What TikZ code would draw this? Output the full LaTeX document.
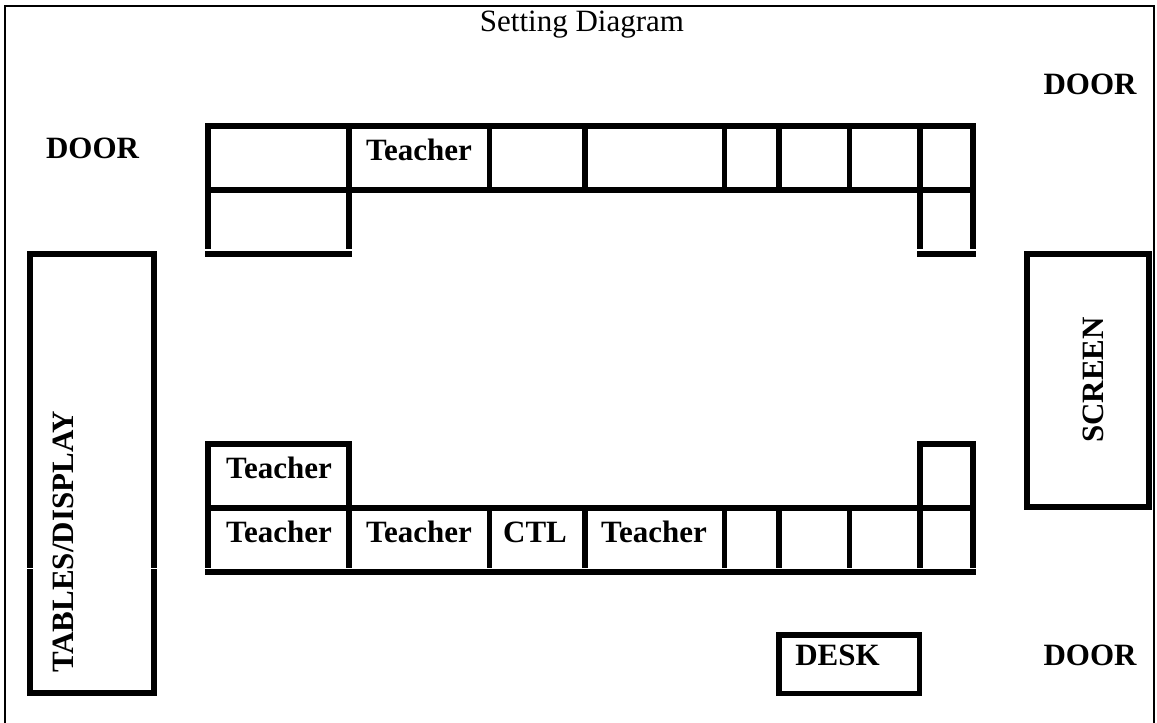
\documentclass[tikz,border=0pt]{standalone}
\usepackage{fontspec}
\setmainfont{Liberation Serif}
\usepackage{xcolor}
\usepackage{tikz}
\definecolor{ink}{HTML}{000000}
\definecolor{paper}{HTML}{FFFFFF}
\tikzset{
  wall/.style={draw=ink, line width=1.5pt},
  tline/.style={draw=ink, line width=5.5pt},
  tedge/.style={draw=ink, line width=5.5pt, line cap=rect},
  furn/.style={draw=ink, line width=5.5pt},
  lab/.style={text=ink, font=\fontsize{31}{37}\selectfont\bfseries, inner sep=0pt, anchor=base},
  ttl/.style={text=ink, font=\fontsize{31}{37}\selectfont, inner sep=0pt, anchor=base}
}

\begin{document}
\begin{tikzpicture}[x=1pt, y=-1pt]
  \useasboundingbox (0,0) rectangle (1157,723);
  \fill[paper] (0,0) rectangle (1157,723);
  \draw[wall] (5,6) rectangle (1154,760);

  \node[ttl] (title) at (582,31) {Setting Diagram};

  % top row of tables
  \draw[tedge] (208,126) -- (973,126) (208,190) -- (973,190);
  \draw[tedge] (208,254) -- (349,254) (920,254) -- (973,254);
  \draw[tline] (208,126) -- (208,249) (349,126) -- (349,249)
    (920,126) -- (920,249) (973,126) -- (973,249);
  \draw[tline] (489.5,126) -- (489.5,190) (585,126) -- (585,190)
    (724.7,126) -- (724.7,190) (779,126) -- (779,190) (849.5,126) -- (849.5,190);

  % bottom row of tables
  \draw[tedge] (208,444) -- (349,444) (920,444) -- (973,444);
  \draw[tedge] (208,508) -- (973,508) (208,572) -- (973,572);
  \draw[tline] (208,444) -- (208,568) (349,444) -- (349,568)
    (920,444) -- (920,568) (973,444) -- (973,568);
  \draw[tline] (489.5,508) -- (489.5,568) (585,508) -- (585,568)
    (724.7,508) -- (724.7,568) (779,508) -- (779,568) (849.5,508) -- (849.5,568);

  \node[lab] (tchA) at (419,160) {Teacher};
  \node[lab] (tchB) at (279,478) {Teacher};
  \node[lab] (tchC) at (279,542) {Teacher};
  \node[lab] (tchD) at (419,542) {Teacher};
  \node[lab] (ctl) at (535,542) {CTL};
  \node[lab] (tchE) at (654,542) {Teacher};

  % side furniture
  \draw[furn] (30,254) rectangle (154,693);
  \draw[paper, line width=1pt] (26,568) -- (34,568) (150,568) -- (158,568);
  \node[lab, rotate=90, anchor=base west] (tables) at (73,673) {TABLES/DISPLAY};

  \draw[furn] (1027,254) rectangle (1149,507);
  \node[lab, rotate=90, anchor=base west] (screen) at (1103,443) {SCREEN};

  \draw[furn] (779,635) rectangle (919.5,693.5);
  \node[lab] (desk) at (837.5,665) {DESK};

  % doors
  \node[lab] (doorA) at (92.5,158) {DOOR};
  \node[lab] (doorB) at (1090,94) {DOOR};
  \node[lab] (doorC) at (1090,665) {DOOR};
\end{tikzpicture}
\end{document}
